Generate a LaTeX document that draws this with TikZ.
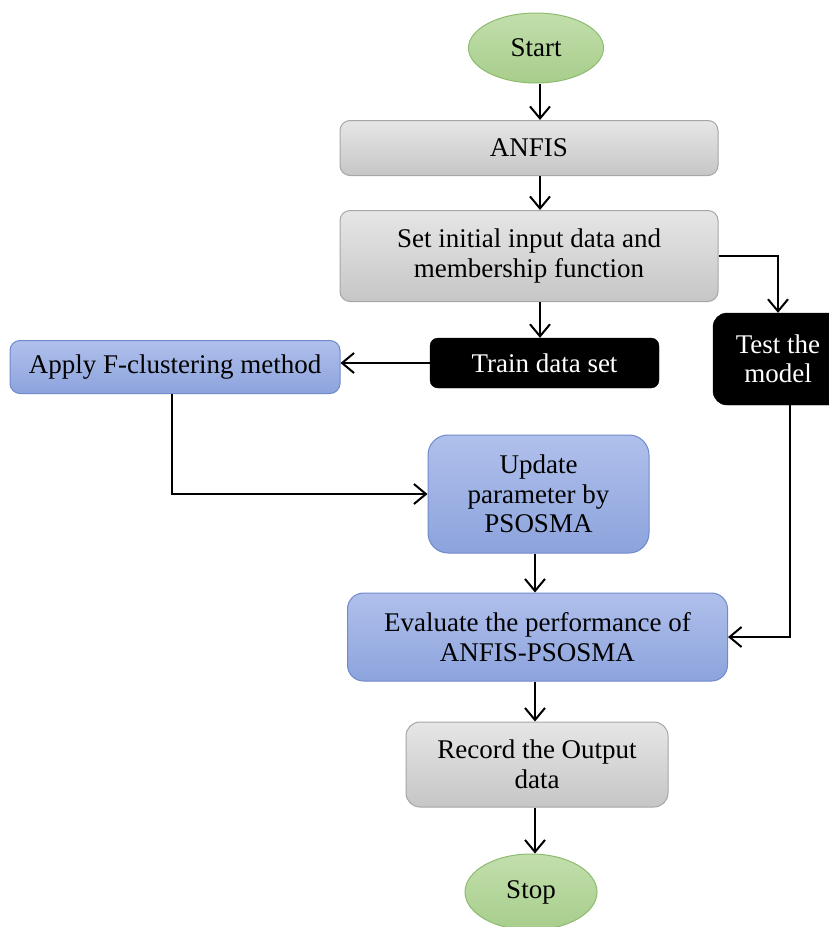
\documentclass[tikz,border=0pt]{standalone}
\usepackage{fontspec}
\setmainfont{Liberation Serif}
\usetikzlibrary{shapes.geometric,arrows.meta}
\definecolor{gtop}{HTML}{E6E6E6}
\definecolor{gbot}{HTML}{C6C6C6}
\definecolor{gline}{HTML}{A6A6A6}
\definecolor{btop}{HTML}{B0C0EC}
\definecolor{bbot}{HTML}{8CA3DC}
\definecolor{bline}{HTML}{6F89CA}
\definecolor{ntop}{HTML}{C2DFAC}
\definecolor{nbot}{HTML}{A7CD8B}
\definecolor{nline}{HTML}{8EBB70}
\tikzset{
  txt/.style={font=\fontsize{27}{29.5}\selectfont, align=center, inner sep=0pt},
  graybox/.style={txt, rectangle, rounded corners=10pt, draw=gline, line width=1pt, top color=gtop, bottom color=gbot},
  bluebox/.style={txt, rectangle, rounded corners=14pt, draw=bline, line width=1pt, top color=btop, bottom color=bbot},
  blackbox/.style={txt, rectangle, rounded corners=8pt, fill=black, draw=black, text=white},
  term/.style={txt, ellipse, draw=nline, line width=1pt, top color=ntop, bottom color=nbot},
  arr/.style={line width=2pt, -{Straight Barb[length=12pt,width=20pt]}},
  thinarr/.style={line width=1.5pt, -{Straight Barb[length=12pt,width=20pt,line width=2pt]}}
}
\begin{document}
\begin{tikzpicture}[x=1pt,y=-1pt]
\useasboundingbox (0,0) rectangle (828,927);
\node[term, minimum width=135pt, minimum height=70pt] (start) at (536,48) {Start};
\node[graybox, minimum width=378pt, minimum height=55pt] (anfis) at (529,148) {ANFIS};
\node[graybox, minimum width=378pt, minimum height=91pt] (set) at (529,256) {Set initial input data and\\membership function};
\node[blackbox, minimum width=229pt, minimum height=50pt] (train) at (544.5,363) {Train data set};
\node[bluebox, rounded corners=10pt, minimum width=330pt, minimum height=53pt] (apply) at (175,367) {Apply F-clustering method};
\node[blackbox, rounded corners=14pt, minimum width=130pt, minimum height=92pt] (test) at (778,359) {Test the\\model};
\node[bluebox, rounded corners=20pt, minimum width=221pt, minimum height=118pt] (update) at (538.5,494) {Update\\parameter by\\PSOSMA};
\node[bluebox, rounded corners=16pt, minimum width=380pt, minimum height=88pt] (eval) at (537.5,637) {Evaluate the performance of\\ANFIS-PSOSMA};
\node[graybox, rounded corners=14pt, minimum width=262pt, minimum height=85pt] (record) at (537,764.5) {Record the Output\\data};
\node[term, minimum width=132pt, minimum height=76pt] (stop) at (531,892) {Stop};
\coordinate (xa) at (540,0);
\coordinate (xb) at (535,0);
\coordinate (xc) at (790,0);
\coordinate (xd) at (172,0);
\draw[arr] (start.south -| xa) -- (anfis.north -| xa);
\draw[arr] (anfis.south -| xa) -- (set.north -| xa);
\draw[arr] (set.south -| xa) -- (train.north -| xa);
\draw[thinarr] (set.east) -| (test.north);
\draw[arr] (train.west) -- (apply.east |- train.west);
\draw[thinarr] (apply.south -| xd) |- (update.west);
\draw[arr] (update.south -| xb) -- (eval.north -| xb);
\draw[thinarr] (test.south -| xc) |- (eval.east);
\draw[arr] (eval.south -| xb) -- (record.north -| xb);
\draw[arr] (record.south -| xb) -- (stop.north -| xb);
\end{tikzpicture}
\end{document}
